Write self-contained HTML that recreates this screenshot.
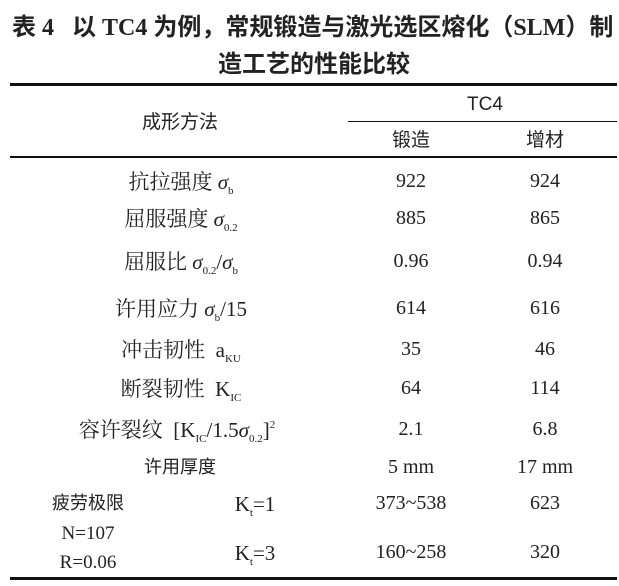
<!DOCTYPE html>
<html><head><meta charset="utf-8"><style>
body{margin:0;background:#fff;width:619px;height:586px;position:relative;overflow:hidden;font-family:"Liberation Serif","Noto Serif CJK SC",serif;color:#222}
.t{position:absolute;white-space:nowrap;transform:translate(-50%,-50%);font-size:20px;line-height:24px}
.r{font-size:21px}
.s{font-family:"Liberation Sans","Noto Sans CJK SC",sans-serif}
.h{position:absolute;font-weight:bold;font-size:24px;font-family:"Liberation Serif","Noto Sans CJK SC",sans-serif;white-space:nowrap}
.l{position:absolute;background:#111}
sub{font-size:11px;vertical-align:-5px;line-height:0}
sup{font-size:11px;vertical-align:9px;line-height:0}
i{font-style:italic}
</style></head><body>
<div class="h" style="left:12px;top:7px">表 4&nbsp;&nbsp;&nbsp;以 TC4 为例，常规锻造与激光选区熔化（SLM）制</div>
<div class="h" style="left:218px;top:44px">造工艺的性能比较</div>
<div class="l" style="left:10px;top:83px;width:607px;height:3px"></div>
<div class="l" style="left:348px;top:121px;width:269px;height:1px"></div>
<div class="l" style="left:10px;top:156px;width:607px;height:2px"></div>
<div class="l" style="left:10px;top:577px;width:607px;height:3px"></div>
<div class="t s" style="left:485px;top:105px;font-size:19px">TC4</div>
<div class="t s" style="left:180px;top:123px;font-size:19px">成形方法</div>
<div class="t s" style="left:411px;top:141px;font-size:19px">锻造</div>
<div class="t s" style="left:545px;top:141px;font-size:19px">增材</div>

<div class="t r" style="left:181px;top:182px">抗拉强度 <i>σ</i><sub>b</sub></div>
<div class="t" style="left:411px;top:181px">922</div><div class="t" style="left:545px;top:181px">924</div>
<div class="t r" style="left:181px;top:219px">屈服强度 <i>σ</i><sub>0.2</sub></div>
<div class="t" style="left:411px;top:218px">885</div><div class="t" style="left:545px;top:218px">865</div>
<div class="t r" style="left:181px;top:262px">屈服比 <i>σ</i><sub>0.2</sub>/<i>σ</i><sub>b</sub></div>
<div class="t" style="left:411px;top:261px">0.96</div><div class="t" style="left:545px;top:261px">0.94</div>
<div class="t r" style="left:181px;top:309px">许用应力 <i>σ</i><sub>b</sub>/15</div>
<div class="t" style="left:411px;top:308px">614</div><div class="t" style="left:545px;top:308px">616</div>
<div class="t r" style="left:181px;top:350px">冲击韧性&nbsp; a<sub>KU</sub></div>
<div class="t" style="left:411px;top:349px">35</div><div class="t" style="left:545px;top:349px">46</div>
<div class="t r" style="left:181px;top:389px">断裂韧性&nbsp; K<sub>IC</sub></div>
<div class="t" style="left:411px;top:388px">64</div><div class="t" style="left:545px;top:388px">114</div>
<div class="t r" style="left:177px;top:430px">容许裂纹&nbsp; [K<sub>IC</sub>/1.5<i>σ</i><sub>0.2</sub>]<sup>2</sup></div>
<div class="t" style="left:411px;top:429px">2.1</div><div class="t" style="left:545px;top:429px">6.8</div>
<div class="t s" style="left:180px;top:467px;font-size:18px">许用厚度</div>
<div class="t" style="left:411px;top:467px">5 mm</div><div class="t" style="left:545px;top:467px">17 mm</div>
<div class="t s" style="left:88px;top:503px;font-size:18px">疲劳极限</div>
<div class="t" style="left:88px;top:534px;font-size:19px">N=107</div>
<div class="t" style="left:88px;top:563px;font-size:19px">R=0.06</div>
<div class="t r" style="left:255px;top:504px">K<sub>t</sub>=1</div>
<div class="t r" style="left:255px;top:553px">K<sub>t</sub>=3</div>
<div class="t" style="left:411px;top:503px">373~538</div><div class="t" style="left:545px;top:503px">623</div>
<div class="t" style="left:411px;top:552px">160~258</div><div class="t" style="left:545px;top:552px">320</div>
</body></html>
